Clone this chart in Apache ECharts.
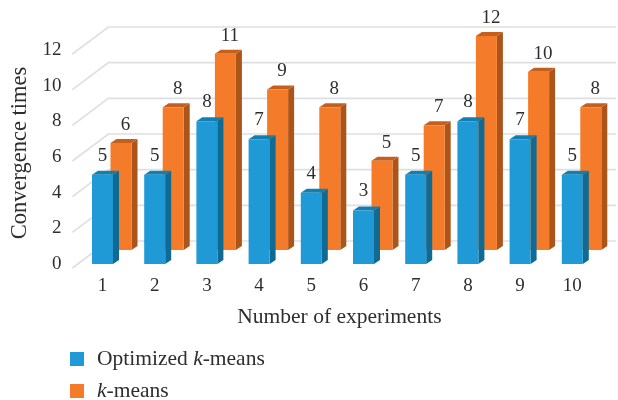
<!DOCTYPE html>
<html>
<head>
<meta charset="utf-8">
<title>Convergence times</title>
<script src="https://cdn.jsdelivr.net/npm/echarts@6/dist/echarts.min.js"></script>
<style>
  html, body { margin: 0; padding: 0; background: #fff; }
  #chart { width: 618px; height: 400px; }
</style>
</head>
<body>
<div id="chart"></div>
<script>
const categories = ['1', '2', '3', '4', '5', '6', '7', '8', '9', '10']
const optimized = [5, 5, 8, 7, 4, 3, 5, 8, 7, 5]
const kmeans = [6, 8, 11, 9, 8, 5, 7, 12, 10, 8]
const yTicks = [0, 2, 4, 6, 8, 10, 12]

const fontFamily = '"Liberation Serif", serif'
const textColor = '#2e2e2e'
const barWidth = 21
const depthX = 6
const depthY = 4

// one 3D bar, shifted back by (shiftX, shiftY) from the front plane
function bar3d(colors, shiftX, shiftY, labelX, labelY) {
  return function (params, api) {
    const top = api.coord([api.value(0), api.value(1)])
    const bottom = api.coord([api.value(0), 0])
    const x0 = top[0] - 10.5 + shiftX
    const x1 = x0 + barWidth
    const y0 = top[1] + shiftY
    const y1 = bottom[1] + shiftY
    return {
      type: 'group',
      children: [{
        type: 'polygon',
        shape: { points: [[x1, y0], [x1 + depthX, y0 - depthY], [x1 + depthX, y1 - depthY], [x1, y1]] },
        style: { fill: colors.side }
      }, {
        type: 'polygon',
        shape: { points: [[x0, y0], [x1, y0], [x1 + depthX, y0 - depthY], [x0 + depthX, y0 - depthY]] },
        style: { fill: colors.top }
      }, {
        type: 'rect',
        shape: { x: x0, y: y0, width: barWidth, height: y1 - y0 },
        style: { fill: colors.front }
      }, {
        type: 'text',
        z2: 10,
        style: {
          text: String(api.value(1)),
          x: x0 + labelX,
          y: y0 - labelY,
          align: 'center',
          verticalAlign: 'middle',
          font: '19px ' + fontFamily,
          fill: textColor
        }
      }]
    }
  }
}

// side wall stroke and back wall line for one y tick
function renderWall(params, api) {
  const y = api.coord([0, api.value(1)])[1]
  const left = params.coordSys.x
  return {
    type: 'polyline',
    shape: { points: [[left - 4, y + 4], [left + 32, y - 23], [616, y - 23]] },
    style: { fill: null, stroke: '#dddfe2', lineWidth: 1.6 }
  }
}

const chart = echarts.init(document.getElementById('chart'))

chart.setOption({
  animation: false,
  grid: { left: 76.4, top: 50, width: 522, height: 214, outerBoundsMode: 'none' },
  legend: {
    data: ['Optimized k-means', 'k-means'],
    orient: 'vertical',
    left: 70,
    top: 348,
    height: 60,
    padding: 0,
    itemWidth: 14,
    itemHeight: 14,
    itemGap: 10,
    icon: 'rect',
    formatter: name => name.replace('k-means', '{i|k}-means'),
    textStyle: {
      fontFamily,
      fontSize: 21.5,
      color: textColor,
      padding: [0, 0, 0, 8],
      rich: { i: { fontFamily, fontSize: 21.5, fontStyle: 'italic', color: textColor } }
    }
  },
  xAxis: {
    type: 'category',
    data: categories,
    name: 'Number of experiments',
    nameLocation: 'middle',
    nameGap: 42,
    nameTextStyle: { fontFamily, fontSize: 21.5, color: textColor, padding: [0, 0, 0, 4] },
    axisLine: { show: false },
    axisTick: { show: false },
    axisLabel: { fontFamily, fontSize: 19, color: textColor, margin: 13 }
  },
  yAxis: {
    type: 'value',
    min: 0,
    max: 12,
    interval: 2,
    name: 'Convergence times',
    nameLocation: 'middle',
    nameGap: 36,
    nameTextStyle: { fontFamily, fontSize: 22.5, color: textColor, padding: [0, 0, 8, 8] },
    axisLine: { show: false },
    axisTick: { show: false },
    splitLine: { show: false },
    axisLabel: { fontFamily, fontSize: 19, color: textColor, margin: 15, padding: [9, 0, 0, 0] }
  },
  series: [{
    type: 'custom',
    silent: true,
    clip: false,
    z: 1,
    data: yTicks.map(v => [0, v]),
    renderItem: renderWall
  }, {
    name: 'k-means',
    type: 'custom',
    clip: false,
    z: 2,
    itemStyle: { color: '#f47b2a' },
    data: kmeans.map((v, i) => [i, v]),
    renderItem: bar3d({ front: '#f47b2a', side: '#ad5519', top: '#c4601d' }, 18.5, -14, 15, 18)
  }, {
    name: 'Optimized k-means',
    type: 'custom',
    clip: false,
    z: 3,
    itemStyle: { color: '#1f9ad6' },
    data: optimized.map((v, i) => [i, v]),
    renderItem: bar3d({ front: '#1f9ad6', side: '#0f6a94', top: '#137fb0' }, 0, 0, 10.5, 19)
  }]
})
</script>
</body>
</html>
